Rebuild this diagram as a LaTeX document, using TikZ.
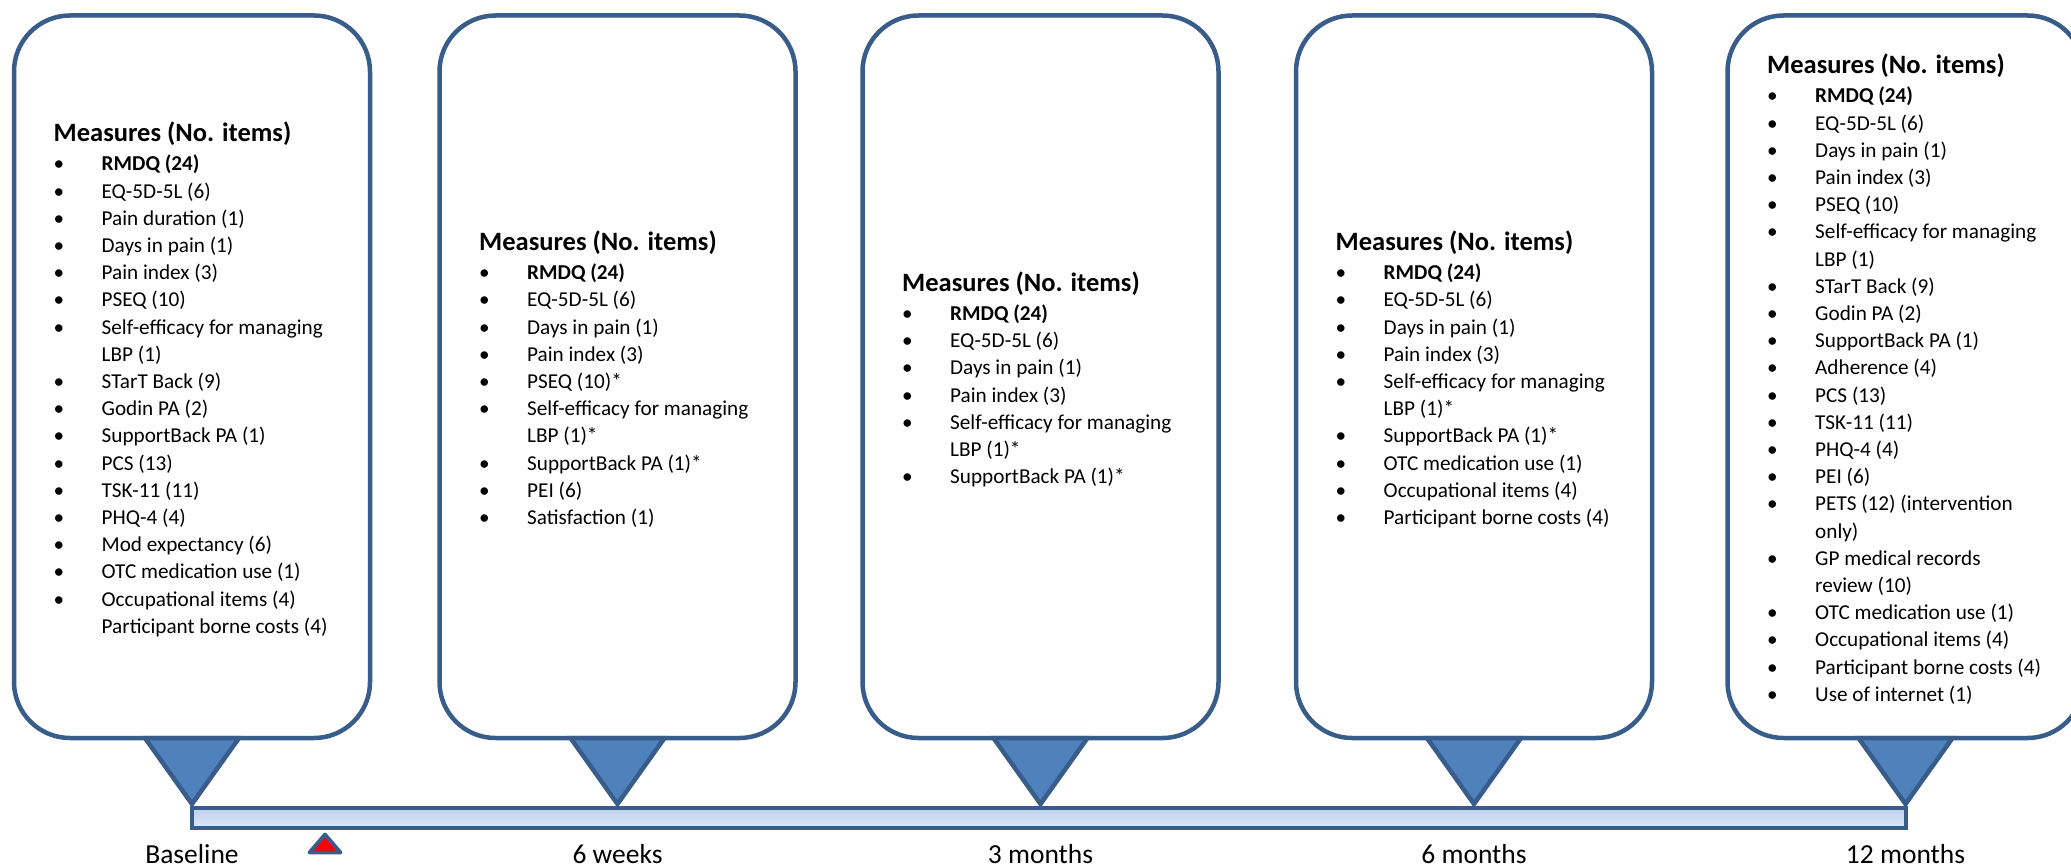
\documentclass[tikz,border=0pt]{standalone}
\usepackage{fontspec}
\setmainfont{Carlito}
\usetikzlibrary{calc}
\definecolor{bdr}{HTML}{385D8A}
\definecolor{tri}{HTML}{4F81BD}
\definecolor{bartop}{RGB}{190,208,235}
\definecolor{barbot}{RGB}{222,232,246}
\newcommand\bl{\makebox[48pt][l]{•}}
\newcommand\ind{\hspace*{48pt}}
\newcommand\hd{{\fontsize{26.5pt}{27.2pt}\selectfont\bfseries Measures (No. items)}\\[1.8pt]}
\begin{document}
\begin{tikzpicture}[x=1pt,y=-1pt,
  box/.style={draw=bdr,line width=4.5pt,rounded corners=56pt,minimum width=356pt,minimum height=722.5pt,fill=white,inner sep=0pt,outer sep=0pt},
  pointer/.style={draw=bdr,fill=tri,line width=4.5pt,line join=miter},
  itemlist/.style={anchor=west,inner sep=0pt,font=\fontsize{21.2pt}{27.2pt}\selectfont},
  lbl/.style={anchor=base,inner sep=0pt,font=\fontsize{27.5pt}{30pt}\selectfont},
  marker/.style={draw=bdr,fill=red,line width=3.8pt,line join=round},
  bar/.style={draw=bdr,line width=4pt,top color=bartop,bottom color=barbot}
]
\useasboundingbox (0,0) rectangle (2071,867);
\clip (0,0) rectangle (2071,867);

\node[box] (b1) at (192,376.75) {};
\node[box] (b2) at (617.5,376.75) {};
\node[box] (b3) at (1040.5,376.75) {};
\node[box] (b4) at (1474,376.75) {};
\node[box] (b5) at (1905.5,376.75) {};

\foreach \i in {1,...,5}{
  \coordinate (a\i) at ($(b\i.south)+(0,70)$);
  \coordinate (p\i) at ($(b\i.south)+(0,66)$);
}

\draw[bar] (a1) rectangle ($(a5)+(0,20)$);

\foreach \i in {1,...,5}{
  \draw[pointer] ($(b\i.south)+(-47,0)$) -- (p\i) -- ($(b\i.south)+(47,0)$) -- cycle;
}

\coordinate (m) at (325,829);
\draw[marker] ($(m)+(0,5.5)$) -- ($(m)+(15.5,23.5)$) -- ($(m)+(-15.5,23.5)$) -- cycle;

\node[lbl] (l1) at ($(a1)+(0,55)$) {Baseline};
\node[lbl] (l2) at ($(a2)+(0,55)$) {6 weeks};
\node[lbl] (l3) at ($(a3)+(0,55)$) {3 months};
\node[lbl] (l4) at ($(a4)+(0,55)$) {6 months};
\node[lbl] (l5) at ($(a5)+(0,55)$) {12 months};

\node[itemlist] (t1) at ($(b1.west)+(39.5,5)$) {\begin{tabular}{@{}l@{}}
\hd
\bl\textbf{RMDQ (24)}\\
\bl EQ-5D-5L (6)\\
\bl Pain duration (1)\\
\bl Days in pain (1)\\
\bl Pain index (3)\\
\bl PSEQ (10)\\
\bl Self-efficacy for managing\\
\ind LBP (1)\\
\bl STarT Back (9)\\
\bl Godin PA (2)\\
\bl SupportBack PA (1)\\
\bl PCS (13)\\
\bl TSK-11 (11)\\
\bl PHQ-4 (4)\\
\bl Mod expectancy (6)\\
\bl OTC medication use (1)\\
\bl Occupational items (4)\\
\ind Participant borne costs (4)
\end{tabular}};

\node[itemlist] (t2) at ($(b2.west)+(39.5,5)$) {\begin{tabular}{@{}l@{}}
\hd
\bl\textbf{RMDQ (24)}\\
\bl EQ-5D-5L (6)\\
\bl Days in pain (1)\\
\bl Pain index (3)\\
\bl PSEQ (10)*\\
\bl Self-efficacy for managing\\
\ind LBP (1)*\\
\bl SupportBack PA (1)*\\
\bl PEI (6)\\
\bl Satisfaction (1)
\end{tabular}};

\node[itemlist] (t3) at ($(b3.west)+(39.5,5)$) {\begin{tabular}{@{}l@{}}
\hd
\bl\textbf{RMDQ (24)}\\
\bl EQ-5D-5L (6)\\
\bl Days in pain (1)\\
\bl Pain index (3)\\
\bl Self-efficacy for managing\\
\ind LBP (1)*\\
\bl SupportBack PA (1)*
\end{tabular}};

\node[itemlist] (t4) at ($(b4.west)+(39.5,5)$) {\begin{tabular}{@{}l@{}}
\hd
\bl\textbf{RMDQ (24)}\\
\bl EQ-5D-5L (6)\\
\bl Days in pain (1)\\
\bl Pain index (3)\\
\bl Self-efficacy for managing\\
\ind LBP (1)*\\
\bl SupportBack PA (1)*\\
\bl OTC medication use (1)\\
\bl Occupational items (4)\\
\bl Participant borne costs (4)
\end{tabular}};

\node[itemlist] (t5) at ($(b5.west)+(39.5,5)$) {\begin{tabular}{@{}l@{}}
\hd
\bl\textbf{RMDQ (24)}\\
\bl EQ-5D-5L (6)\\
\bl Days in pain (1)\\
\bl Pain index (3)\\
\bl PSEQ (10)\\
\bl Self-efficacy for managing\\
\ind LBP (1)\\
\bl STarT Back (9)\\
\bl Godin PA (2)\\
\bl SupportBack PA (1)\\
\bl Adherence (4)\\
\bl PCS (13)\\
\bl TSK-11 (11)\\
\bl PHQ-4 (4)\\
\bl PEI (6)\\
\bl PETS (12) (intervention\\
\ind only)\\
\bl GP medical records\\
\ind review (10)\\
\bl OTC medication use (1)\\
\bl Occupational items (4)\\
\bl Participant borne costs (4)\\
\bl Use of internet (1)
\end{tabular}};
\end{tikzpicture}
\end{document}
